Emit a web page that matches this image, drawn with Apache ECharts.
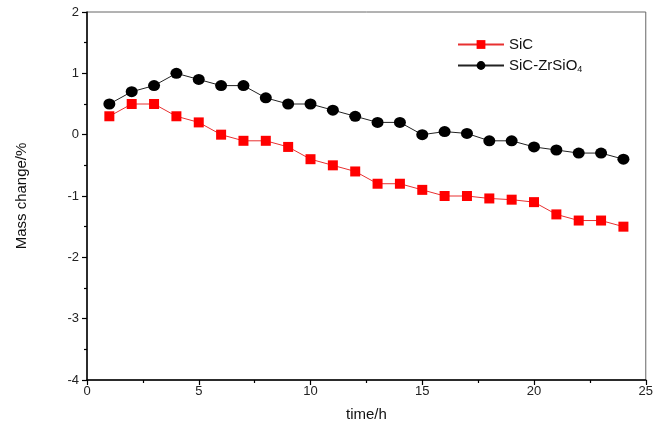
<!DOCTYPE html>
<html><head><meta charset="utf-8">
<script src="https://cdn.jsdelivr.net/npm/echarts@6/dist/echarts.min.js"></script>
<style>html,body{margin:0;padding:0;background:#fff}#c{width:656px;height:435px}</style>
</head><body><div id="c"></div>
<script>
var hours = [1,2,3,4,5,6,7,8,9,10,11,12,13,14,15,16,17,18,19,20,21,22,23,24];
var sic = [0.3,0.5,0.5,0.3,0.2,0.0,-0.1,-0.1,-0.2,-0.4,-0.5,-0.6,-0.8,-0.8,-0.9,-1.0,-1.0,-1.04,-1.06,-1.1,-1.3,-1.4,-1.4,-1.5];
var sicZr = [0.5,0.7,0.8,1.0,0.9,0.8,0.8,0.6,0.5,0.5,0.4,0.3,0.2,0.2,0.0,0.05,0.02,-0.1,-0.1,-0.2,-0.25,-0.3,-0.3,-0.4];
var names = ['SiC','SiC-ZrSiO4'];

function pairs(ys){ return hours.map(function(h,i){ return [h, ys[i]]; }); }
var font = 'Liberation Sans, Arial, sans-serif';
var chart = echarts.init(document.getElementById('c'), null, {renderer:'canvas'});
chart.setOption({
  animation:false,
  grid:{left:87, right:8, top:12, bottom:55, show:true, borderColor:'#666', borderWidth:1},
  legend:{
    orient:'vertical', left:452, top:32, itemWidth:46, itemHeight:11, itemGap:6,
    data:names,
    textStyle:{fontFamily:font, fontSize:15, color:'#111',
      rich:{sub:{fontFamily:font, fontSize:9, color:'#111', verticalAlign:'bottom', padding:[9,0,0,0]}}},
    formatter:function(n){ return n==='SiC-ZrSiO4' ? 'SiC-ZrSiO{sub|4}' : n; }
  },
  xAxis:{type:'value', min:0, max:25, interval:5,
    name:'time/h', nameLocation:'middle', nameGap:27,
    nameTextStyle:{fontFamily:font, fontSize:15, color:'#111'},
    axisLine:{onZero:false, lineStyle:{color:'#000', width:1.5}},
    axisTick:{show:true, length:5, inside:false, lineStyle:{color:'#000', width:1.2}},
    minorTick:{show:true, splitNumber:2, length:3, lineStyle:{color:'#000', width:1.2}},
    axisLabel:{fontFamily:font, fontSize:13, color:'#222', margin:5},
    splitLine:{show:false}},
  yAxis:{type:'value', min:-4, max:2, interval:1,
    name:'Mass change/%', nameLocation:'middle', nameGap:58,
    nameTextStyle:{fontFamily:font, fontSize:15, color:'#111'},
    axisLine:{onZero:false, lineStyle:{color:'#000', width:1.5}},
    axisTick:{show:true, length:5, inside:false, lineStyle:{color:'#000', width:1.2}},
    minorTick:{show:true, splitNumber:2, length:3, lineStyle:{color:'#000', width:1.2}},
    axisLabel:{fontFamily:font, fontSize:13, color:'#222', margin:8},
    splitLine:{show:false}},
  series:[
    {name:names[0], type:'line', data:pairs(sic), symbol:'rect', symbolSize:[10,10],
      itemStyle:{color:'#ff0000'}, lineStyle:{color:'#e83030', width:1}},
    {name:names[1], type:'line', data:pairs(sicZr), symbol:'circle', symbolSize:[12,11],
      itemStyle:{color:'#000'}, lineStyle:{color:'#222', width:1}}
  ]
});
</script></body></html>
